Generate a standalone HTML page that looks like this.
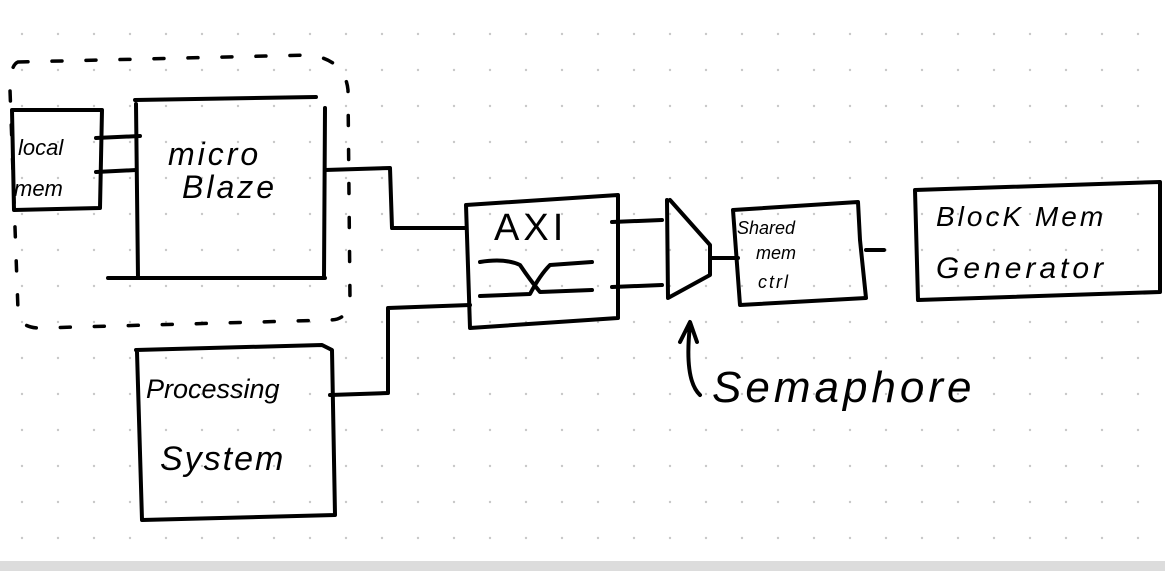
<!DOCTYPE html>
<html><head><style>
html,body{margin:0;padding:0;width:1165px;height:571px;overflow:hidden;background:#fff}
svg{display:block}
text{font-family:"Liberation Sans",sans-serif;fill:#000}
</style></head><body>
<svg width="1165" height="571" viewBox="0 0 1165 571" xmlns="http://www.w3.org/2000/svg">
<defs>
<pattern id="g" x="4" y="16" width="36" height="36" patternUnits="userSpaceOnUse">
<circle cx="18" cy="18" r="1.2" fill="#c8c8c8"/>
</pattern>
</defs>
<rect width="1165" height="562" fill="url(#g)"/>
<rect y="561" width="1165" height="10" fill="#dcdcdc"/>
<g fill="none" stroke="#000" stroke-width="4" stroke-linecap="round" stroke-linejoin="round">
<path d="M18 62 L310 55 Q345 60 348 90 L350 300 Q348 320 330 320 L40 328 Q18 328 18 310 L10 90 Q10 65 18 62" stroke-dasharray="10 24" stroke-width="3.5"/>
<path d="M12 110 L102 110 L100 208 L14 210 Z"/>
<path d="M96 138 L140 136 M96 172 L136 170"/>
<path d="M135 100 L316 97 M136 104 L138 278 M108 278 L325 278 M325 108 L324 278"/>
<path d="M325 170 L390 168 L392 228 L466 228"/>
<path d="M466 205 L618 195 L618 318 L470 328 Z"/>
<path d="M480 262 Q505 258 520 265 Q530 280 540 292 L592 290 M480 296 L530 294 Q540 275 550 265 L592 262"/>
<path d="M330 395 L388 393 L388 308 L470 305"/>
<path d="M136 350 L322 345 L332 350 L335 515 L142 520 L137 352"/>
<path d="M612 222 L662 220 M612 287 L662 285"/>
<path d="M667 200 L668 298 L710 275 L710 245 L670 200"/>
<path d="M710 258 L738 258"/>
<path d="M733 210 L858 202 L860 240 L866 298 L740 305 Z"/>
<path d="M866 250 L884 250"/>
<path d="M915 190 L1160 182 L1160 292 L918 300 Z"/>
<path d="M680 342 L690 322 L697 342 M690 325 Q684 380 700 395"/>
</g>
<text x="18" y="155" font-size="22" font-style="italic">local</text>
<text x="14" y="196" font-size="22" font-style="italic">mem</text>
<text x="168" y="165" font-size="32" font-style="italic" letter-spacing="3">micro</text>
<text x="182" y="198" font-size="32" font-style="italic" letter-spacing="3">Blaze</text>
<text x="494" y="240" font-size="38" letter-spacing="4">AXI</text>
<text x="737" y="234" font-size="18" font-style="italic">Shared</text>
<text x="756" y="259" font-size="18" font-style="italic">mem</text>
<text x="758" y="288" font-size="18" font-style="italic" letter-spacing="2">ctrl</text>
<text x="936" y="226" font-size="28" font-style="italic" letter-spacing="3">BlocK  Mem</text>
<text x="936" y="278" font-size="30" font-style="italic" letter-spacing="4">Generator</text>
<text x="146" y="398" font-size="27" font-style="italic">Processing</text>
<text x="160" y="470" font-size="34" font-style="italic" letter-spacing="2">System</text>
<text x="712" y="402" font-size="44" font-style="italic" letter-spacing="4">Semaphore</text>
</svg>
</body></html>
